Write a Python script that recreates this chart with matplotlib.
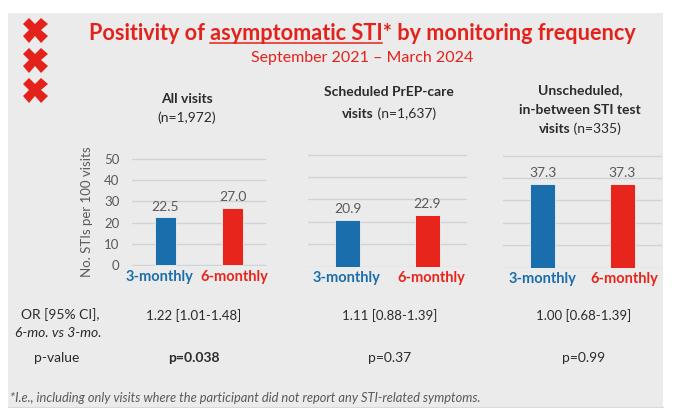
"""Asymptomatic STI positivity by monitoring frequency (three-panel bar slide)."""

import matplotlib

matplotlib.use("Agg")
import matplotlib.pyplot as plt
import matplotlib.transforms as mtransforms
from matplotlib.lines import Line2D
from matplotlib.patches import Rectangle

# data
panel_titles = [
    ["All visits", "(n=1,972)"],
    ["Scheduled PrEP-care", "visits (n=1,637)"],
    ["Unscheduled,", "in-between STI test", "visits (n=335)"],
]
freq_labels = ["3-monthly", "6-monthly"]
three_monthly = [22.5, 20.9, 37.3]
six_monthly = [27.0, 22.9, 37.3]
y_ticks = [0, 10, 20, 30, 40, 50]
or_labels = ["1.22 [1.01-1.48]", "1.11 [0.88-1.39]", "1.00 [0.68-1.39]"]
p_labels = ["p=0.038", "p=0.37", "p=0.99"]
p_bold = [True, False, False]

W, H = 695, 415
FONT = "Lato"
RED = "#e3231b"
BLUE = "#1b6eac"
BAR_RED = "#e8251c"
GREY_BG = "#ebebeb"
TEXT = "#2b2b2b"
MUTED = "#5a5a5a"

plt.rcParams["font.family"] = [FONT, "DejaVu Sans"]

fig = plt.figure(figsize=(W / 100, H / 100), dpi=100)
fig.patch.set_facecolor("white")


def fx(x):
    return x / W


def fy(y):
    return 1 - y / H


# slide background
fig.add_artist(Rectangle((fx(8), fy(407)), fx(655), 394 / H, transform=fig.transFigure,
                         facecolor=GREY_BG, edgecolor="none", zorder=0))
fig.add_artist(Line2D([fx(8), fx(663)], [fy(407), fy(407)], transform=fig.transFigure,
                      color="#d3dfd3", lw=0.8, zorder=1))

# Amsterdam crosses (logo decoration)
fig.add_artist(Line2D([fx(35)] * 3, [fy(30), fy(60), fy(90)], transform=fig.transFigure,
                      linestyle="none", marker="X", markersize=18, color=RED,
                      markeredgewidth=0))

# title with underlined part
title_kw = dict(color=RED, fontsize=15.6, fontweight="bold")
full_title = "Positivity of asymptomatic STI* by monitoring frequency"
t = fig.text(fx(362), fy(40), full_title, ha="center", va="baseline", **title_kw)
renderer = fig.canvas.get_renderer()


def text_width(s, **kw):
    tmp = fig.text(0, 0, s, **kw)
    w = tmp.get_window_extent(renderer).width
    tmp.remove()
    return w


left = t.get_window_extent(renderer).x0
u_end = left + text_width("Positivity of asymptomatic STI", **title_kw)
u_start = u_end - text_width("asymptomatic STI", **title_kw)
fig.add_artist(Line2D([u_start / W, u_end / W], [fy(43.5), fy(43.5)], transform=fig.transFigure,
                      color=RED, lw=1.1))

fig.text(fx(362), fy(58), "September 2021 \u2013 March 2024", color=RED, fontsize=11.5,
         ha="center", va="center")

# panel geometry in pixels: left, right, bottom(y=-0.3), top(y=50.5)
boxes = [(132, 266, 265.6, 157.9), (308, 467, 267.2, 153.4), (503, 662, 268.2, 154.4)]
header_x = [187, 389, 580]
header_y = [[99, 118], [92, 114], [90, 110, 129]]
# the first panel is narrow, so its tick labels are pushed apart a little (pixels)
label_shift = [(-6, 2), (-1, 4), (0, 2)]

for i, (l, r, b, tp) in enumerate(boxes):
    ax = fig.add_axes([fx(l), fy(b), (r - l) / W, (b - tp) / H])
    ax.set_facecolor("none")
    vals = [three_monthly[i], six_monthly[i]]
    ax.bar([0, 1], vals, width=0.31, color=[BLUE, BAR_RED], edgecolor="#f2f2f2",
           linewidth=0.6, zorder=3)
    for xx, v in zip([0, 1], vals):
        ax.text(xx, v + 2.2, f"{v:.1f}", ha="center", va="bottom", fontsize=10, color=MUTED)
    ax.set_xlim(-0.5, 1.5)
    ax.set_ylim(-0.3, 50.5)
    ax.set_yticks(y_ticks)
    ax.grid(axis="y", color="#cfd3d3", lw=1.0, zorder=0)
    for s in ax.spines.values():
        s.set_visible(False)
    ax.set_xticks([0, 1], freq_labels)
    ax.tick_params(axis="x", length=0, pad=3, labelsize=10.5)
    for lab, c, dx in zip(ax.get_xticklabels(), [BLUE, BAR_RED], label_shift[i]):
        lab.set_color(c)
        lab.set_fontweight("bold")
        lab.set_transform(lab.get_transform() +
                          mtransforms.ScaledTranslation(dx / 100, 0, fig.dpi_scale_trans))
    if i == 0:
        ax.tick_params(axis="y", length=0, pad=9, labelsize=9.5, labelcolor=MUTED)
        ax.set_ylabel("No. STIs per 100 visits", fontsize=9.5, color=MUTED)
        ax.yaxis.set_label_coords(-0.29, 0.5)
    else:
        ax.tick_params(axis="y", length=0, labelleft=False)

    # panel header: bold part, then the sample size in regular weight
    for j, line in enumerate(panel_titles[i]):
        yy = fy(header_y[i][j])
        if line.startswith("("):
            fig.text(fx(header_x[i]), yy, line, ha="center", va="center", fontsize=10,
                     color=TEXT)
        elif "(" in line:
            head, tail = line.split(" (", 1)
            tail = " (" + tail
            w_head = text_width(head, fontsize=10, fontweight="bold")
            w_tail = text_width("x" + tail, fontsize=10) - text_width("x", fontsize=10)
            x0 = header_x[i] - (w_head + w_tail) / 2
            fig.text(fx(x0), yy, head, ha="left", va="center", fontsize=10,
                     fontweight="bold", color=TEXT)
            fig.text(fx(x0 + w_head), yy, tail, ha="left", va="center", fontsize=10,
                     color=TEXT)
        else:
            fig.text(fx(header_x[i]), yy, line, ha="center", va="center", fontsize=10,
                     fontweight="bold", color=TEXT)

# bottom table
or_x = [194, 390, 584]
fig.text(fx(60), fy(315), "OR [95% CI],", ha="center", va="center", fontsize=10, color=TEXT)
fig.text(fx(58), fy(333), "6-mo. vs 3-mo.", ha="center", va="center", fontsize=10,
         style="italic", color=TEXT)
fig.text(fx(57), fy(358), "p-value", ha="center", va="center", fontsize=10, color=TEXT)
for xx, o, p, bold in zip(or_x, or_labels, p_labels, p_bold):
    fig.text(fx(xx), fy(316), o, ha="center", va="center", fontsize=9.5, color=TEXT)
    fig.text(fx(xx), fy(358), p, ha="center", va="center", fontsize=10, color=TEXT,
             fontweight="bold" if bold else "normal")

fig.text(fx(10), fy(398), "*I.e., including only visits where the participant did not report any "
         "STI-related symptoms.", ha="left", va="center", fontsize=9.3, style="italic",
         color=MUTED)

fig.savefig("out.png", dpi=100)
